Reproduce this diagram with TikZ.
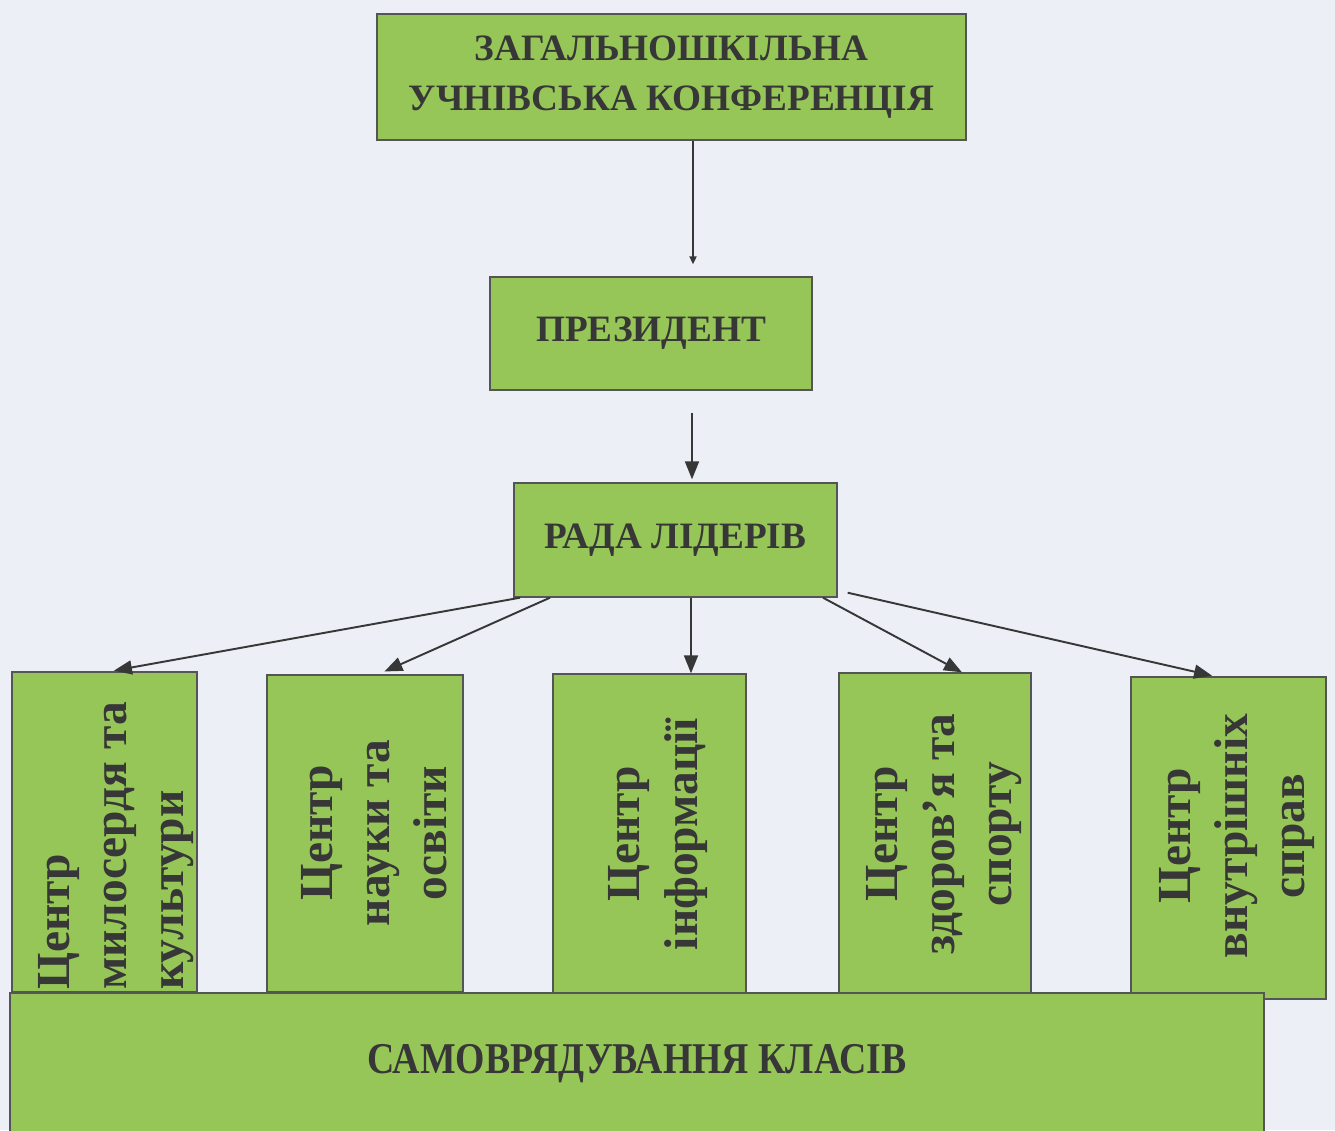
\documentclass[tikz,border=0pt]{standalone}
\usepackage{fontspec}
\setmainfont{Liberation Serif}
\newfontfamily\narrowserif[FakeStretch=0.86]{Liberation Serif}
\usepackage{tikz}
\usetikzlibrary{arrows.meta}
\definecolor{boxgreen}{RGB}{150,198,88}
\definecolor{paper}{RGB}{236,239,246}
\definecolor{ink}{RGB}{55,55,55}

\begin{document}
\begin{tikzpicture}[
        x=0.02cm, y=-0.02cm,
        box/.style = {draw=ink!85, fill=boxgreen, line width=0.8pt, inner sep=0pt, text=ink, align=center,
                      font=\bfseries\fontsize{21.2}{28.5}\selectfont},
        ctext/.style = {rotate=90, inner sep=0pt, text=ink, align=center,
                        font=\bfseries\fontsize{27}{32.5}\selectfont},
        arr/.style = {-{Triangle[length=3.6mm,width=2.8mm]}, draw=ink, line width=1.1pt},
    ]
    \fill[paper] (0,0) rectangle (1335,1130);
    \useasboundingbox (0,0) rectangle (1335,1130);
    % conference
    \node[box, minimum width=11.78cm, minimum height=2.52cm] (conf) at (671.5,77) {ЗАГАЛЬНОШКІЛЬНА\\УЧНІВСЬКА КОНФЕРЕНЦІЯ};
    % president
    \node[box, minimum width=6.44cm, minimum height=2.26cm] (pres) at (651,333.5) {ПРЕЗИДЕНТ};
    % council
    \node[box, minimum width=6.46cm, minimum height=2.28cm] (rada) at (675.5,540) {РАДА ЛІДЕРІВ};
    % centres
    \node[box, minimum width=3.70cm, minimum height=6.40cm] (c1) at (104.5,832) {};
    \node[box, minimum width=3.92cm, minimum height=6.34cm] (c2) at (365,833.5) {};
    \node[box, minimum width=3.86cm, minimum height=6.40cm] (c3) at (649.5,834) {};
    \node[box, minimum width=3.84cm, minimum height=6.46cm] (c4) at (935,834.5) {};
    \node[box, minimum width=3.90cm, minimum height=6.44cm] (c5) at (1228.5,838) {};
    \node[ctext, anchor=west, align=left] (t1) at (116,990) {Центр\\милосердя та\\культури};
    \node[ctext] (t2) at (374,833) {Центр\\науки та\\освіти};
    \node[ctext] (t3) at (658,834) {Центр\\інформації};
    \node[ctext] (t4) at (944,834) {Центр\\здоров'я та\\спорту};
    \node[ctext] (t5) at (1237,836) {Центр\\внутрішніх\\справ};
    % classes
    \node[box, minimum width=25.08cm, minimum height=2.84cm, font=\narrowserif\bfseries\fontsize{25}{29}\selectfont] (klasy) at (637,1064) {САМОВРЯДУВАННЯ КЛАСІВ};
    % arrows
    \draw[-{Triangle[length=1.6mm,width=1.4mm]}, draw=ink, line width=1.1pt, shorten >=0.24cm] (conf.south -| 693,0) -- (pres.north -| 693,0);
    \draw[arr, shorten <=0.44cm, shorten >=0.06cm] (pres.south -| 692,0) -- (rada.north -| 692,0);
    \draw[arr, shorten >=0.08cm] (rada.south -| 520,0) -- (c1.north -| 110,0);
    \draw[arr, shorten >=0.14cm] (rada.south -| 550,0) -- (c2.north -| 378,0);
    \draw[arr] (rada.south -| 691,0) -- (c3.north -| 691,0);
    \draw[arr] (rada.south -| 823,0) -- (c4.north -| 962,0);
    \draw[arr, shorten >=0.06cm] (rada.south east) ++(10,-5) coordinate (r5) (r5) -- (c5.north -| 1215,0);
\end{tikzpicture}
\end{document}
